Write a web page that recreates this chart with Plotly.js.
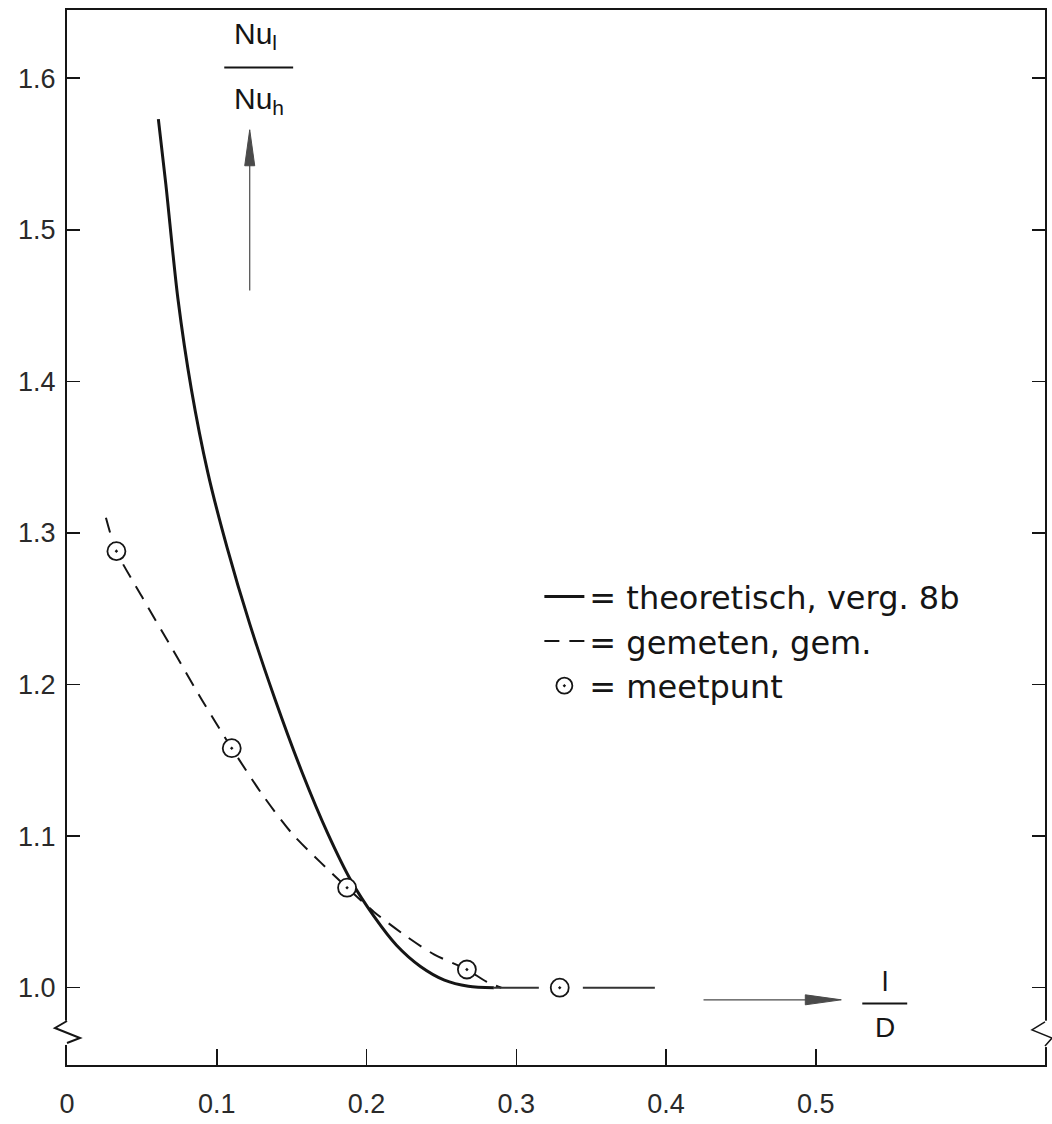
<!DOCTYPE html>
<html>
<head>
<meta charset="utf-8">
<script src="https://cdn.plot.ly/plotly-3.0.1.min.js"></script>
<style>
html,body{margin:0;padding:0;background:#fff;}
#chart{width:1052px;height:1124px;}
</style>
</head>
<body>
<div id="chart"></div>
<script>
// ---- data ----
// theoretical curve (solid)
const theoX = [0.061, 0.066, 0.074, 0.083, 0.094, 0.107, 0.122, 0.139, 0.157, 0.174, 0.190, 0.205, 0.220, 0.236, 0.252, 0.268, 0.285];
const theoY = [1.573, 1.530, 1.455, 1.395, 1.340, 1.290, 1.240, 1.190, 1.142, 1.102, 1.070, 1.047, 1.028, 1.014, 1.005, 1.001, 1.000];
// measured, averaged curve (dashed)
const measX = [0.026, 0.033, 0.050, 0.070, 0.090, 0.110, 0.130, 0.150, 0.170, 0.187, 0.205, 0.225, 0.245, 0.267, 0.280, 0.290];
const measY = [1.310, 1.288, 1.258, 1.224, 1.190, 1.158, 1.128, 1.102, 1.082, 1.066, 1.050, 1.035, 1.022, 1.012, 1.004, 1.000];
// flat continuation at 1.0
const flatX = [0.285, 0.393];
const flatY = [1.000, 1.000];
// measurement points
const ptX = [0.033, 0.110, 0.187, 0.267, 0.329];
const ptY = [1.288, 1.158, 1.066, 1.012, 1.000];
// ticks
const xTickVals = [0, 0.1, 0.2, 0.3, 0.4, 0.5];
const xTickText = ['0', '0.1', '0.2', '0.3', '0.4', '0.5'];
const yTickVals = [1.0, 1.1, 1.2, 1.3, 1.4, 1.5, 1.6];
const yTickText = ['1.0', '1.1', '1.2', '1.3', '1.4', '1.5', '1.6'];
const legendNames = ['= theoretisch, verg. 8b', '= gemeten, gem.', '= meetpunt'];

const INK = '#151515';
const ARROW = '#4a4a4a';
const FONT = 'Liberation Sans, Arial, sans-serif';

const traces = [
  {x: theoX, y: theoY, mode: 'lines', name: legendNames[0],
   line: {color: INK, width: 3, shape: 'spline', smoothing: 0.8}},
  {x: measX, y: measY, mode: 'lines', name: legendNames[1],
   line: {color: INK, width: 2, dash: '15px,10px', shape: 'spline', smoothing: 0.8}},
  {x: flatX, y: flatY, mode: 'lines', showlegend: false,
   line: {color: '#333', width: 2, dash: '45px,44px,72px'}},
  {x: ptX, y: ptY, mode: 'markers', name: legendNames[2],
   marker: {symbol: 'circle-dot', size: 18, color: '#ffffff', line: {color: INK, width: 1.8}}}
];

const layout = {
  width: 1052, height: 1124,
  margin: {l: 67, r: 7, t: 10, b: 59},
  paper_bgcolor: '#ffffff', plot_bgcolor: '#ffffff',
  font: {family: FONT, color: INK},
  xaxis: {
    range: [0, 0.653], showgrid: false, zeroline: false,
    showline: true, linecolor: INK, linewidth: 2, mirror: true,
    ticks: 'inside', ticklen: 16, tickwidth: 1.5, tickcolor: INK,
    tickvals: xTickVals, ticktext: xTickText, ticklabelstandoff: 14,
    tickfont: {family: FONT, size: 27, color: '#2a2a2a'}
  },
  yaxis: {
    range: [0.949, 1.645], showgrid: false, zeroline: false,
    showline: true, linecolor: INK, linewidth: 2, mirror: 'ticks',
    ticks: 'inside', ticklen: 13, tickwidth: 1.5, tickcolor: INK,
    tickvals: yTickVals, ticktext: yTickText, ticklabelstandoff: 4,
    tickfont: {family: FONT, size: 27, color: '#2a2a2a'}
  },
  showlegend: true,
  legend: {
    x: 0.483, y: 0.47, xanchor: 'left', yanchor: 'top',
    bgcolor: 'rgba(0,0,0,0)', borderwidth: 0,
    font: {family: 'DejaVu Sans, sans-serif', size: 32, color: INK},
    itemwidth: 40, tracegroupgap: 0
  },
  shapes: [
    // axis-break marks
    {type: 'rect', xref: 'paper', yref: 'paper', x0: -0.006, x1: 0.006, y0: 0.019, y1: 0.042,
     fillcolor: '#ffffff', line: {width: 0}, layer: 'above'},
    {type: 'path', xref: 'paper', yref: 'paper', layer: 'above',
     path: 'M0,0.0417 L-0.0123,0.0351 L0.0133,0.0256 L0,0.0209',
     line: {color: INK, width: 2}},
    {type: 'rect', xref: 'paper', yref: 'paper', x0: 0.994, x1: 1.006, y0: 0.017, y1: 0.042,
     fillcolor: '#ffffff', line: {width: 0}, layer: 'above'},
    {type: 'path', xref: 'paper', yref: 'paper', layer: 'above',
     path: 'M1,0.0408 L0.9867,0.0332 L1.0072,0.0256 L1,0.018',
     line: {color: INK, width: 1.5}},
    // fraction bars of axis labels
    {type: 'line', xref: 'x', yref: 'y', x0: 0.105, x1: 0.151, y0: 1.607, y1: 1.607,
     line: {color: INK, width: 2}},
    {type: 'line', xref: 'x', yref: 'y', x0: 0.531, x1: 0.561, y0: 0.9895, y1: 0.9895,
     line: {color: INK, width: 2}},
    // axis direction arrows: shafts
    {type: 'line', xref: 'x', yref: 'y', x0: 0.122, x1: 0.122, y0: 1.46, y1: 1.545,
     line: {color: ARROW, width: 1.2}},
    {type: 'line', xref: 'x', yref: 'y', x0: 0.425, x1: 0.50, y0: 0.992, y1: 0.992,
     line: {color: ARROW, width: 1.2}},
    // arrow heads (long narrow triangles)
    {type: 'path', xref: 'x', yref: 'y', xsizemode: 'pixel', ysizemode: 'pixel',
     xanchor: 0.122, yanchor: 1.566, path: 'M0,0 L-5,-36 L5,-36 Z',
     fillcolor: ARROW, line: {color: ARROW, width: 1}},
    {type: 'path', xref: 'x', yref: 'y', xsizemode: 'pixel', ysizemode: 'pixel',
     xanchor: 0.517, yanchor: 0.992, path: 'M0,0 L-36,5 L-36,-5 Z',
     fillcolor: ARROW, line: {color: ARROW, width: 1}}
  ],
  annotations: [
    // axis label Nu_l / Nu_h
    {x: 0.126, y: 1.628, xref: 'x', yref: 'y', showarrow: false,
     text: 'Nu<sub>l</sub>', font: {family: FONT, size: 30, color: INK}},
    {x: 0.128, y: 1.585, xref: 'x', yref: 'y', showarrow: false,
     text: 'Nu<sub>h</sub>', font: {family: FONT, size: 30, color: INK}},
    // axis label l / D
    {x: 0.546, y: 1.004, xref: 'x', yref: 'y', showarrow: false,
     text: 'l', font: {family: FONT, size: 28, color: INK}},
    {x: 0.546, y: 0.974, xref: 'x', yref: 'y', showarrow: false,
     text: 'D', font: {family: FONT, size: 28, color: INK}}
  ]
};

Plotly.newPlot('chart', traces, layout, {staticPlot: true, displayModeBar: false});
</script>
</body>
</html>
